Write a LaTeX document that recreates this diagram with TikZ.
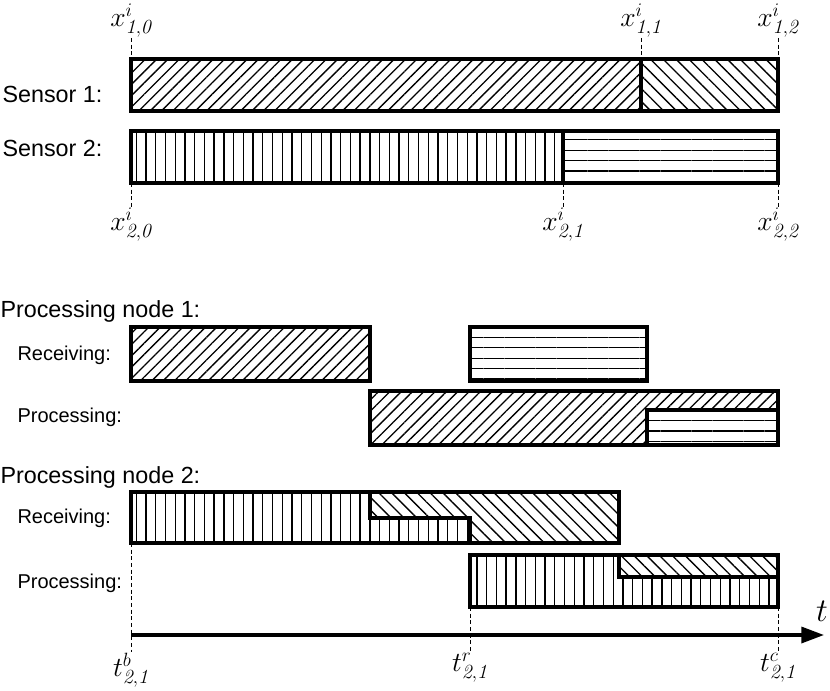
\documentclass[tikz,border=0pt]{standalone}
\usepackage{fontspec}
\newfontfamily\labelfont{Liberation Sans}
\usetikzlibrary{patterns.meta,arrows.meta}

\tikzset{every picture/.style={line width=0.75pt}}
\tikzset{
  bar/.style={line width=3pt, line join=miter, preaction={fill=white}},
  hatchne/.style={pattern={Lines[angle=45,distance=6pt,line width=1pt]}},
  hatchnw/.style={pattern={Lines[angle=-45,distance=6.8pt,line width=1pt]}},
  hatchvert/.style={pattern={Lines[angle=90,distance=7.3pt,line width=1pt]}},
  hatchhori/.style={pattern={Lines[angle=0,distance=7.8pt,line width=1pt]}},
  tick/.style={line width=0.75pt, dash pattern=on 3pt off 2pt},
  bigtext/.style={font=\labelfont\fontsize{17.5}{20}\selectfont, inner sep=0pt},
  smalltext/.style={font=\labelfont\fontsize{15}{18}\selectfont, inner sep=0pt},
  mathlabel/.style={font=\fontsize{21.5}{24}\selectfont, inner sep=0.5pt}
}

\begin{document}
\begin{tikzpicture}[x=0.75pt,y=0.75pt,yscale=-1,xscale=1]
\useasboundingbox (0,0) rectangle (830,691);

% tick coordinates
\coordinate (xa0t) at (131,38);  \coordinate (xa0b) at (131,59);
\coordinate (xa1t) at (641,38);  \coordinate (xa1b) at (641,59);
\coordinate (xa2t) at (778,38);  \coordinate (xa2b) at (778,59);
\coordinate (xb0t) at (131,183); \coordinate (xb0b) at (131,207);
\coordinate (xb1t) at (563,183); \coordinate (xb1b) at (563,207);
\coordinate (xb2t) at (778,183); \coordinate (xb2b) at (778,207);
\coordinate (tbt) at (131,543);  \coordinate (tbb) at (131,652);
\coordinate (trt) at (470,607);  \coordinate (trb) at (470,652);
\coordinate (tct) at (778,607);  \coordinate (tcb) at (778,652);
\coordinate (axs) at (131,635);  \coordinate (axe) at (824,635);

%Shape: Sensor 1
\draw [bar, hatchne] (131,59) rectangle (641,111) ;
\draw [bar, hatchnw] (641,59) rectangle (778,111) ;
%Shape: Sensor 2
\draw [bar, hatchvert] (131,131) rectangle (563,183) ;
\draw [bar, hatchhori] (563,131) rectangle (778,183) ;

%Shape: Node 1 receiving
\draw [bar, hatchne] (131,327) rectangle (370,381) ;
\draw [bar, hatchhori] (470,327) rectangle (647,381) ;
%Shape: Node 1 processing
\draw [bar, hatchne] (370,391) rectangle (778,445) ;
\draw [bar, hatchhori] (647,410) rectangle (778,445) ;

%Shape: Node 2 receiving
\draw [bar, hatchvert] (131,492) rectangle (619,543) ;
\draw [bar, hatchnw] (370,492) -- (619,492) -- (619,543) -- (470,543) -- (470,518) -- (370,518) -- cycle ;
%Shape: Node 2 processing
\draw [bar, hatchvert] (470,555) rectangle (778,607) ;
\draw [bar, hatchnw] (619,555) rectangle (778,577) ;

% dashed ticks
\draw [tick] (xa0t) -- (xa0b) ;
\draw [tick] (xa1t) -- (xa1b) ;
\draw [tick] (xa2t) -- (xa2b) ;
\draw [tick] (xb0t) -- (xb0b) ;
\draw [tick] (xb1t) -- (xb1b) ;
\draw [tick] (xb2t) -- (xb2b) ;
\draw [tick] (tbt) -- (tbb) ;
\draw [tick] (trt) -- (trb) ;
\draw [tick] (tct) -- (tcb) ;

% time axis
\draw [line width=2.5pt, -{Triangle[length=17pt,width=12pt]}] (axs) -- (axe) ;

% Text Node
\node (lxa0) [mathlabel, anchor=south] at (xa0t) {$x^{i}_{\mathit{1,0}}$};
\node (lxa1) [mathlabel, anchor=south] at (xa1t) {$x^{i}_{\mathit{1,1}}$};
\node (lxa2) [mathlabel, anchor=south] at (xa2t) {$x^{i}_{\mathit{1,2}}$};
\node (lxb0) [mathlabel, anchor=north] at (xb0b) {$x^{i}_{\mathit{2,0}}$};
\node (lxb1) [mathlabel, anchor=north] at (xb1b) {$x^{i}_{\mathit{2,1}}$};
\node (lxb2) [mathlabel, anchor=north] at (xb2b) {$x^{i}_{\mathit{2,2}}$};
\node (ltb) [mathlabel, anchor=north] at (tbb) {$t^{b}_{\mathit{2,1}}$};
\node (ltr) [mathlabel, anchor=north] at (trb) {$t^{r}_{\mathit{2,1}}$};
\node (ltc) [mathlabel, anchor=north] at (tcb) {$t^{c}_{\mathit{2,1}}$};
\node (lt) [font=\fontsize{27}{30}\selectfont, inner sep=0pt] at (822,611) {$t$};

% Text Node
\node (sens1) [bigtext, anchor=base west] at (2,103) {Sensor 1:};
\node (sens2) [bigtext, anchor=base west] at (2,157) {Sensor 2:};
\node (pn1) [bigtext, anchor=base west] at (0,317) {Processing node 1:};
\node (pn1r) [smalltext, anchor=base west] at (17,360) {Receiving:};
\node (pn1p) [smalltext, anchor=base west] at (17,422) {Processing:};
\node (pn2) [bigtext, anchor=base west] at (0,483) {Processing node 2:};
\node (pn2r) [smalltext, anchor=base west] at (17,523) {Receiving:};
\node (pn2p) [smalltext, anchor=base west] at (17,588) {Processing:};

\end{tikzpicture}
\end{document}
